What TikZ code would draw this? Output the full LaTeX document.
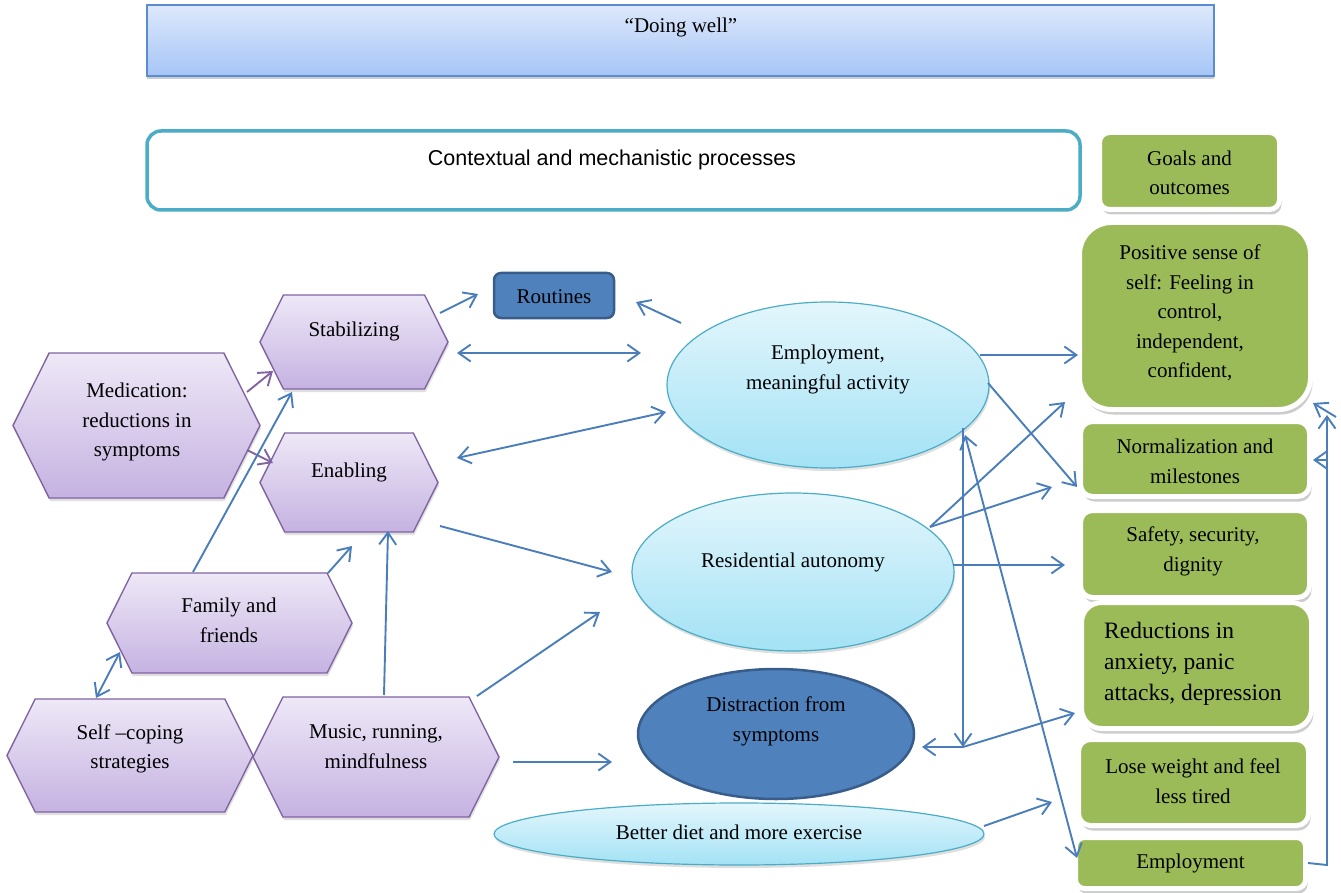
\documentclass[tikz,border=0pt]{standalone}
\usepackage{fontspec}
\setmainfont{Liberation Serif}
\newfontfamily\sansf{Liberation Sans}
\usetikzlibrary{shapes.geometric,shapes.symbols,arrows.meta,shadows,calc}
\definecolor{arrb}{HTML}{4A7EBB}
\definecolor{hexb}{HTML}{8064A2}
\definecolor{hextop}{HTML}{EEE8F7}
\definecolor{hexbot}{HTML}{C5B2E1}
\definecolor{ellb}{HTML}{4BACC6}
\definecolor{elltop}{HTML}{E3F6FC}
\definecolor{ellbot}{HTML}{A3E2F5}
\definecolor{darkf}{HTML}{4F81BD}
\definecolor{darkb}{HTML}{385D8A}
\definecolor{grn}{HTML}{9BBB59}
\definecolor{bantop}{HTML}{DDE8FB}
\definecolor{banbot}{HTML}{A6C5F6}
\definecolor{banb}{HTML}{5B8BD0}
\newcommand{\fs}{\fontsize{21}{29.5}\selectfont}
\begin{document}
\begin{tikzpicture}[x=1pt,y=-1pt,
  hexa/.style={signal, signal to=west and east, signal pointer angle=127,
    draw=hexb, line width=1.4pt, top color=hextop, bottom color=hexbot, inner sep=0,
    drop shadow={opacity=.25, shadow xshift=1pt, shadow yshift=-3pt}},
  ell/.style={ellipse, draw=ellb, line width=1.2pt, top color=elltop, bottom color=ellbot,
    inner sep=0, drop shadow={opacity=.25, shadow xshift=1pt, shadow yshift=-3pt}},
  darkbox/.style={draw=darkb, line width=2.5pt, fill=darkf, inner sep=0},
  gbox/.style={rectangle, rounded corners=12pt, fill=grn, draw=white, line width=5pt,
    inner sep=0, drop shadow={opacity=.4, shadow xshift=2pt, shadow yshift=-5pt}},
  txt/.style={inner sep=0, align=center, font=\fs},
  tip/.style={Straight Barb[length=12pt,width=17pt]},
  conn/.style={draw=arrb, line width=1.9pt, -{Straight Barb[length=12pt,width=17pt]}},
  both/.style={draw=arrb, line width=1.9pt, {Straight Barb[length=12pt,width=17pt]}-{Straight Barb[length=12pt,width=17pt]}},
  pconn/.style={draw=hexb, line width=1.9pt, -{Straight Barb[length=12pt,width=17pt]}}
]
\useasboundingbox (0,0) rectangle (1341,893);

% top banner and context box
\node[rectangle, draw=banb, line width=1.2pt, top color=bantop, bottom color=banbot,
  minimum width=1067pt, minimum height=71pt, inner sep=0,
  drop shadow={opacity=.4, shadow xshift=0pt, shadow yshift=-3pt}] (banner) at (680.5,40.5) {};
\node[txt] (bannerT) at (681,27) {“Doing well”};
\node[rectangle, rounded corners=14pt, draw=ellb, line width=3.5pt, fill=white,
  minimum width=933pt, minimum height=79pt, inner sep=0] (context) at (613.5,170.5) {};
\node[txt, font=\sansf\fontsize{21.5}{26}\selectfont] (contextT) at (612,160) {Contextual and mechanistic processes};

% hexagons
\node[hexa, minimum width=188pt, minimum height=94pt] (stab) at (354,342) {};
\node[txt] (stabT) at (354,331) {Stabilizing};
\node[hexa, minimum width=247pt, minimum height=145pt] (med) at (136.5,425.5) {};
\node[txt] (medT) at (137,422) {Medication:\\reductions in\\symptoms};
\node[hexa, minimum width=178pt, minimum height=99pt] (enab) at (349,482.5) {};
\node[txt] (enabT) at (349,472) {Enabling};
\node[hexa, minimum width=245pt, minimum height=100pt] (fam) at (229.5,623) {};
\node[txt] (famT) at (229,620.5) {Family and\\friends};
\node[hexa, minimum width=246pt, minimum height=113pt] (self) at (130,755.5) {};
\node[txt] (selfT) at (130,749) {Self --coping\\strategies};
\node[hexa, minimum width=246pt, minimum height=120pt] (music) at (376,757) {};
\node[txt] (musicT) at (376,746.5) {Music, running,\\mindfulness};

% routines
\node[darkbox, rounded corners=7pt, minimum width=120pt, minimum height=45pt] (rout) at (554,295.5) {};
\node[txt] (routT) at (554,297) {Routines};

% ellipses
\node[ell, minimum width=322pt, minimum height=166pt] (emp) at (828,385) {};
\node[txt] (empT) at (828,369.5) {Employment,\\meaningful activity};
\node[ell, minimum width=322pt, minimum height=158pt] (res) at (793,572) {};
\node[txt] (resT) at (793,562) {Residential autonomy};
\node[ellipse, draw=darkb, line width=2.5pt, fill=darkf, inner sep=0,
  minimum width=276pt, minimum height=130pt] (dist) at (776,734) {};
\node[txt] (distT) at (776,721.5) {Distraction from\\symptoms};
\node[ell, minimum width=490pt, minimum height=62pt] (diet) at (739,834) {};
\node[txt] (dietT) at (739,832) {Better diet and more exercise};

% green boxes
\node[gbox, rounded corners=10pt, minimum width=180pt, minimum height=77pt] (goals) at (1189.5,171) {};
\node[txt] (goalsT) at (1189.5,173) {Goals and\\outcomes};
\node[gbox, rounded corners=32pt, minimum width=231pt, minimum height=187pt] (pos) at (1195,316) {};
\node[txt] (posT) at (1190,313) {Positive sense of\\self: Feeling in\\control,\\independent,\\confident,};
\node[gbox, minimum width=229pt, minimum height=75pt] (norm) at (1195,459) {};
\node[txt] (normT) at (1195,461.5) {Normalization and\\milestones};
\node[gbox, minimum width=229pt, minimum height=87pt] (safe) at (1195,554) {};
\node[txt] (safeT) at (1193,551.5) {Safety, security,\\dignity};
\node[gbox, rounded corners=20pt, minimum width=230pt, minimum height=126pt] (redu) at (1196.5,665.5) {};
\node[txt, anchor=west, align=left, font=\fontsize{23.5}{31}\selectfont] (reduT) at (1104,664) {Reductions in\\anxiety, panic\\attacks, depression};
\node[gbox, minimum width=230pt, minimum height=86pt] (lose) at (1193.5,782.5) {};
\node[txt] (loseT) at (1193,781) {Lose weight and feel\\less tired};
\node[gbox, rounded corners=9pt, minimum width=230pt, minimum height=51pt] (empl) at (1190.5,863) {};
\node[txt] (emplT) at (1190.5,863) {Employment};

% connector end points
\coordinate (a1s) at (440,313);  \coordinate (a1e) at (478,294);
\coordinate (a2s) at (457,353);  \coordinate (a2e) at (641,353);
\coordinate (a3s) at (681,323);  \coordinate (a3e) at (636,302);
\coordinate (a4s) at (457,458);  \coordinate (a4e) at (666,412);
\coordinate (a5s) at (440,526);  \coordinate (a5e) at (612,572);
\coordinate (a6s) at (247,392);  \coordinate (a6e) at (273,371);
\coordinate (a7s) at (247,450);  \coordinate (a7e) at (273,463);
\coordinate (a8s) at (193,572);  \coordinate (a8e) at (292,392);
\coordinate (a9s) at (328,573);  \coordinate (a9e) at (352,546);
\coordinate (a10s) at (96,698);  \coordinate (a10e) at (120,652);
\coordinate (a11s) at (384,695); \coordinate (a11e) at (388,531);
\coordinate (a12s) at (477,696); \coordinate (a12e) at (600,612);
\coordinate (a13s) at (513,762); \coordinate (a13e) at (612,762);
\coordinate (a14s) at (980,355); \coordinate (a14e) at (1078,355);
\coordinate (a15s) at (988,383); \coordinate (a15e) at (1077,487);
\coordinate (a16s) at (930,527); \coordinate (a16e) at (1065,402);
\coordinate (a17e) at (1052,487);
\coordinate (a18s) at (953,565); \coordinate (a18e) at (1065,565);
\coordinate (vtop) at (963,428);  \coordinate (junc) at (963,747);
\coordinate (a19e) at (922,747);  \coordinate (a20e) at (1075,713);
\coordinate (a21s) at (965,435); \coordinate (a21e) at (1077,858);
\coordinate (a22s) at (984,826); \coordinate (a22e) at (1052,802);
\coordinate (fb1) at (1327,865); \coordinate (fb2) at (1327,415);
\coordinate (fb3s) at (1336,417); \coordinate (fb3e) at (1313,403);
\coordinate (fb4s) at (1327,460); \coordinate (fb4e) at (1313,460);

% connectors
\draw[conn] (a1s) -- (a1e);
\draw[both] (a2s) -- (a2e);
\draw[conn] (a3s) -- (a3e);
\draw[both] (a4s) -- (a4e);
\draw[conn] (a5s) -- (a5e);
\draw[pconn] (a6s) -- (a6e);
\draw[pconn] (a7s) -- (a7e);
\draw[conn] (a8s) -- (a8e);
\draw[conn] (a9s) -- (a9e);
\draw[both] (a10s) -- (a10e);
\draw[conn] (a11s) -- (a11e);
\draw[conn] (a12s) -- (a12e);
\draw[conn] (a13s) -- (a13e);
\draw[conn] (a14s) -- (a14e);
\draw[conn] (a15s) -- (a15e);
\draw[conn] (a16s) -- (a16e);
\draw[conn] (a16s) -- (a17e);
\draw[conn] (a18s) -- (a18e);
\draw[conn] (vtop) -- (junc);
\draw[conn] (junc) -- (a19e);
\draw[conn] (junc) -- (a20e);
\draw[both] (a21s) -- (a21e);
\draw[conn] (a22s) -- (a22e);
\draw[conn] (empl.east) -- (fb1) -- (fb2);
\draw[conn] (fb3s) -- (fb3e);
\draw[conn] (fb4s) -- (fb4e);
\end{tikzpicture}
\end{document}
